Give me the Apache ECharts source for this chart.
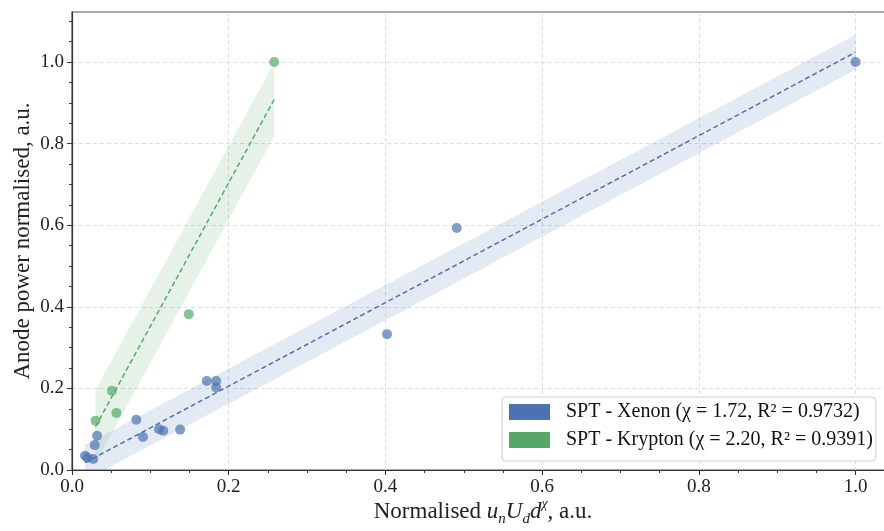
<!DOCTYPE html>
<html>
<head>
<meta charset="utf-8">
<script src="https://cdn.jsdelivr.net/npm/echarts@6/dist/echarts.min.js"></script>
<style>html,body{margin:0;padding:0;background:#fff;}#c{width:884px;height:531px;}</style>
</head>
<body>
<div id="c"></div>
<script>
// ---- data ----
const xenonName = 'SPT - Xenon (χ = 1.72, R² = 0.9732)';
const kryptonName = 'SPT - Krypton (χ = 2.20, R² = 0.9391)';
const xenonX = [0.0166, 0.0196, 0.027, 0.029, 0.032, 0.082, 0.0906, 0.111, 0.1165, 0.138, 0.172, 0.184, 0.184, 0.402, 0.491, 1.0];
const xenonY = [0.035, 0.030, 0.027, 0.061, 0.084, 0.123, 0.081, 0.0997, 0.0964, 0.099, 0.218, 0.218, 0.202, 0.333, 0.593, 1.0];
const kryptonX = [0.030, 0.051, 0.0566, 0.149, 0.258];
const kryptonY = [0.121, 0.194, 0.140, 0.382, 1.0];
const xenonFitX = [0.0166, 1.0];
const xenonFitY = [0.018, 1.024];
const xenonBandHalf = 0.043;
const kryptonFitX = [0.030, 0.258];
const kryptonFitY = [0.106, 0.908];
const kryptonBandHalf = 0.09;
const xTicks = [0, 0.2, 0.4, 0.6, 0.8, 1.0];
const yTicks = [0, 0.2, 0.4, 0.6, 0.8, 1.0];

const BLUE = '#4C72B0', GREEN = '#55A868';
const FONT = '"Liberation Serif", "DejaVu Serif", serif';

function zip(a, b) { return a.map((v, i) => [v, b[i]]); }

function bandSeries(xs, ys, half, color) {
  return {
    type: 'custom',
    silent: true,
    clip: true,
    z: 1,
    data: [[xs[0], ys[0], xs[1], ys[1], half]],
    renderItem: function (params, api) {
      const x0 = api.value(0), y0 = api.value(1), x1 = api.value(2), y1 = api.value(3), h = api.value(4);
      const pts = [api.coord([x0, y0 + h]), api.coord([x1, y1 + h]), api.coord([x1, y1 - h]), api.coord([x0, y0 - h])];
      return { type: 'polygon', shape: { points: pts }, style: { fill: color, opacity: 0.15 } };
    }
  };
}

const chart = echarts.init(document.getElementById('c'), null, { renderer: 'canvas' });
const option = {
  animation: false,
  backgroundColor: '#fff',
  grid: { left: 72, width: 822, top: 12, height: 458, outerBoundsMode: 'none', containLabel: false,
    show: true, borderColor: '#555', borderWidth: 1.2 },
  xAxis: {
    type: 'value', min: 0, max: 1.049, interval: 0.2,
    name: 'Normalised {i|u}{sub|n}{i|U}{sub|d}{i|d}{sup|χ}, a.u.',
    nameLocation: 'middle', nameGap: 27, nameMoveOverlap: false,
    nameTextStyle: {
      fontFamily: FONT, fontSize: 23, color: '#222', lineHeight: 30,
      rich: {
        i: { fontFamily: FONT, fontSize: 23, fontStyle: 'italic', color: '#222' },
        sub: { fontFamily: FONT, fontSize: 15, fontStyle: 'italic', color: '#222', verticalAlign: 'bottom', lineHeight: 15 },
        sup: { fontFamily: FONT, fontSize: 14, fontStyle: 'italic', color: '#222', verticalAlign: 'top', lineHeight: 14 }
      }
    },
    axisLine: { show: true, lineStyle: { color: '#333', width: 1.2 } },
    axisTick: { show: true, length: 5, inside: false, customValues: xTicks, lineStyle: { color: '#333' } },
    minorTick: { show: true, splitNumber: 4, length: 3, lineStyle: { color: '#333' } },
    axisLabel: { fontFamily: FONT, fontSize: 19, color: '#222', margin: 8, customValues: xTicks,
      formatter: v => v.toFixed(1) },
    splitLine: { show: true, lineStyle: { color: '#ddd', type: [4, 3], width: 1 } }
  },
  yAxis: {
    type: 'value', min: 0, max: 1.1225, interval: 0.2,
    name: 'Anode power normalised, a.u.',
    nameLocation: 'middle', nameGap: 38, nameMoveOverlap: false,
    nameTextStyle: { fontFamily: FONT, fontSize: 23, color: '#222' },
    axisLine: { show: true, lineStyle: { color: '#333', width: 1.2 } },
    axisTick: { show: true, length: 5, inside: false, customValues: yTicks, lineStyle: { color: '#333' } },
    minorTick: { show: true, splitNumber: 4, length: 3, lineStyle: { color: '#333' } },
    axisLabel: { fontFamily: FONT, fontSize: 19, color: '#222', margin: 8, customValues: yTicks,
      formatter: v => v.toFixed(1) },
    splitLine: { show: true, lineStyle: { color: '#ddd', type: [4, 3], width: 1 } }
  },
  legend: {
    left: 502, top: 397, orient: 'vertical',
    data: [xenonName, kryptonName],
    icon: 'rect', itemWidth: 41, itemHeight: 16, itemGap: 8,
    itemStyle: { opacity: 1 },
    padding: [5, 3, 11, 7],
    backgroundColor: '#fff', borderColor: '#ccc', borderWidth: 1, borderRadius: 4,
    textStyle: { fontFamily: FONT, fontSize: 20, color: '#111', lineHeight: 20, padding: [0, 0, 0, 11] }
  },
  series: [
    bandSeries(xenonFitX, xenonFitY, xenonBandHalf, BLUE),
    bandSeries(kryptonFitX, kryptonFitY, kryptonBandHalf, GREEN),
    { type: 'line', silent: true, z: 2, data: zip(xenonFitX, xenonFitY), showSymbol: false, symbol: 'none',
      lineStyle: { color: BLUE, width: 1.5, type: [5, 3] } },
    { type: 'line', silent: true, z: 2, data: zip(kryptonFitX, kryptonFitY), showSymbol: false, symbol: 'none',
      lineStyle: { color: GREEN, width: 1.5, type: [5, 3] } },
    { name: xenonName, type: 'scatter', z: 3, data: zip(xenonX, xenonY), symbolSize: 10,
      itemStyle: { color: BLUE, opacity: 0.7 } },
    { name: kryptonName, type: 'scatter', z: 3, data: zip(kryptonX, kryptonY), symbolSize: 10,
      itemStyle: { color: GREEN, opacity: 0.7 } }
  ]
};
chart.setOption(option);
</script>
</body>
</html>
